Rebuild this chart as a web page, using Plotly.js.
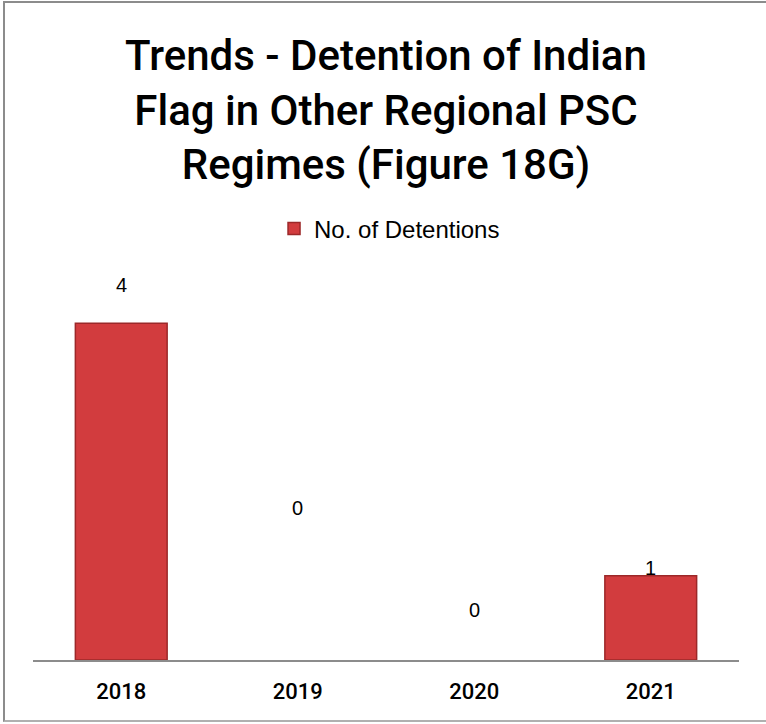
<!DOCTYPE html>
<html>
<head>
<meta charset="utf-8">
<script src="https://cdn.plot.ly/plotly-3.0.1.min.js"></script>
<style>
  html, body { margin: 0; padding: 0; background: #fff; overflow: hidden; }
  #chart { position: absolute; left: 0; top: 0; width: 766px; height: 724px; }
  #frame { position: absolute; left: 3px; top: 1px; width: 761px; height: 717px;
           border-left: 2px solid #8c8c8c; border-top: 2px solid #8c8c8c; border-bottom: 2px solid #b0b0b0;
           pointer-events: none; }
</style>
</head>
<body>
<div id="chart"></div>
<div id="frame"></div>
<script>
const categories = ["2018", "2019", "2020", "2021"];
const detentions = [4, 0, 0, 1];
const seriesName = "No. of Detentions";
const chartTitle = "Trends - Detention of Indian<br>Flag in Other Regional PSC<br>Regimes (Figure 18G)";

// label offsets (pixels above the bar end), as drawn in the reference
const labelShift = [38, 152, 50, 8];

const trace = {
  type: "bar",
  x: categories,
  y: detentions,
  name: seriesName,
  width: 0.52,
  marker: {
    color: "#d23c3e",
    line: { color: "#9c2829", width: detentions.map(v => (v > 0 ? 1.5 : 0)) }
  },
  showlegend: true,
  hoverinfo: "x+y"
};

const annotations = categories.map((c, i) => ({
  x: i, y: detentions[i], xref: "x", yref: "y",
  text: String(detentions[i]), showarrow: false,
  yshift: labelShift[i],
  font: { family: "Liberation Sans, Arial, sans-serif", size: 20, color: "#000" }
}));

const layout = {
  width: 766, height: 724,
  paper_bgcolor: "#ffffff", plot_bgcolor: "#ffffff",
  margin: { l: 33, r: 27, t: 239, b: 64 },
  title: {
    text: chartTitle,
    x: 0.5, xref: "paper", xanchor: "center",
    y: 1 - 70 / 724, yref: "container", yanchor: "top",
    font: { family: "Roboto, DejaVu Sans Condensed, sans-serif", weight: 500, size: 42, color: "#000" }
  },
  showlegend: true,
  legend: {
    orientation: "h", x: 0.505, xanchor: "center", y: 1.024, yanchor: "middle",
    font: { family: "Liberation Sans, Arial, sans-serif", size: 24, color: "#000" },
    bgcolor: "rgba(0,0,0,0)", itemwidth: 30
  },
  xaxis: {
    type: "category",
    range: [-0.5, 3.5],
    showline: true, linecolor: "#8c8c8c", linewidth: 2,
    ticks: "outside", ticklen: 11, tickcolor: "rgba(0,0,0,0)",
    showgrid: false, zeroline: false,
    tickfont: { family: "Roboto, DejaVu Sans Condensed, sans-serif", weight: 500, size: 22, color: "#000" }
  },
  yaxis: { range: [0, 5], visible: false, showgrid: false, zeroline: false },
  annotations: annotations
};

Plotly.newPlot("chart", [trace], layout, { displayModeBar: false, staticPlot: true });
</script>
</body>
</html>
